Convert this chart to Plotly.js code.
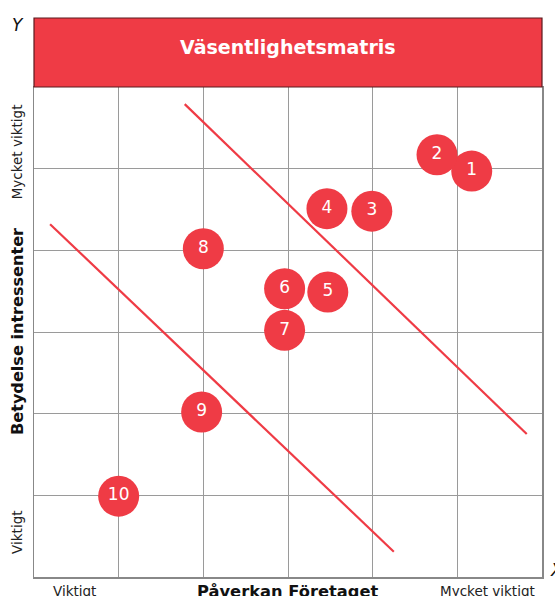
<!DOCTYPE html>
<html>
<head>
<meta charset="utf-8">
<script src="https://cdn.plot.ly/plotly-3.0.1.min.js"></script>
<style>body{margin:0;padding:0;background:#fff;} #chart{width:555px;height:596px;}</style>
</head>
<body>
<div id="chart"></div>
<script>
// Data
var labels = ["1","2","3","4","5","6","7","8","9","10"];
var impact = [5.17, 4.76, 3.99, 3.46, 3.47, 2.96, 2.96, 2.0, 1.98, 1.0];
var importance = [4.97, 5.17, 4.48, 4.51, 3.49, 3.53, 3.02, 4.02, 2.02, 0.99];
var upperLineX = [1.78, 5.82];
var upperLineY = [5.79, 1.75];
var lowerLineX = [0.19, 4.25];
var lowerLineY = [4.32, 0.31];
var xTickLabels = ["Viktigt", "Mycket viktigt"];
var xTickPos = [0.48, 5.36];
var yTickLabels = ["Viktigt", "Mycket viktigt"];
var yTickPos = [0.54, 5.2];
var titleText = "Väsentlighetsmatris";
var xTitle = "Påverkan Företaget";
var yTitle = "Betydelse intressenter";

var red = "#EF3B45";
var font = "DejaVu Sans, Verdana, sans-serif";

var traces = [
  {x: upperLineX, y: upperLineY, mode: "lines", line: {color: red, width: 2.2}, hoverinfo: "skip"},
  {x: lowerLineX, y: lowerLineY, mode: "lines", line: {color: red, width: 2.2}, hoverinfo: "skip"},
  {x: impact, y: importance, mode: "markers+text", text: labels, textposition: "middle center",
   textfont: {color: "#fff", size: 17, family: font},
   marker: {size: 41, color: red, line: {width: 0}}, cliponaxis: false}
];

var annotations = [];
for (var i = 0; i < xTickLabels.length; i++) {
  annotations.push({x: xTickPos[i], xref: "x", xanchor: "center", y: -0.0286, yref: "paper", yanchor: "middle",
    text: xTickLabels[i], showarrow: false, font: {size: 13.5, family: font, color: "#222"}});
}
for (var j = 0; j < yTickLabels.length; j++) {
  annotations.push({x: -17/508, xref: "paper", xanchor: "center", y: yTickPos[j], yref: "y", yanchor: "middle",
    text: yTickLabels[j], textangle: -90, showarrow: false, font: {size: 13.5, family: font, color: "#222"}});
}
annotations.push({x: (287-34)/508, xref: "paper", xanchor: "center", y: -0.0286, yref: "paper", yanchor: "middle",
  text: "<b>" + xTitle + "</b>", showarrow: false, font: {size: 16.3, family: font, color: "#111"}});
annotations.push({x: -17/508, xref: "paper", xanchor: "center", y: (577-332)/490, yref: "paper", yanchor: "middle",
  text: "<b>" + yTitle + "</b>", textangle: -90, showarrow: false, font: {size: 16.1, family: font, color: "#111"}});
annotations.push({x: (288-34)/508, xref: "paper", xanchor: "center", y: (577-47)/490, yref: "paper", yanchor: "middle",
  text: "<b>" + titleText + "</b>", showarrow: false, font: {size: 19, family: font, color: "#fff"}});
annotations.push({x: -16/508, xref: "paper", xanchor: "center", y: (577-25)/490, yref: "paper", yanchor: "middle",
  text: "<i>Y</i>", showarrow: false, font: {size: 17, family: font, color: "#111"}});
annotations.push({x: 1 + 6/508, xref: "paper", xanchor: "left", y: (577-570)/490, yref: "paper", yanchor: "middle",
  text: "<i>X</i>", showarrow: false, font: {size: 17, family: font, color: "#111"}});

var layout = {
  width: 555, height: 596,
  margin: {l: 34, r: 13, t: 87, b: 19, pad: 0},
  paper_bgcolor: "#fff", plot_bgcolor: "#fff",
  showlegend: false,
  xaxis: {range: [0, 6], dtick: 1, tick0: 0, showgrid: true, gridcolor: "#9a9a9a", gridwidth: 1,
    showticklabels: false, ticks: "", zeroline: false, showline: true, linecolor: "#888", linewidth: 1.5, mirror: true, fixedrange: true},
  yaxis: {range: [0, 6], dtick: 1, tick0: 0, showgrid: true, gridcolor: "#9a9a9a", gridwidth: 1,
    showticklabels: false, ticks: "", zeroline: false, showline: true, linecolor: "#888", linewidth: 1.5, mirror: true, fixedrange: true},
  shapes: [
    {type: "rect", xref: "paper", yref: "paper", x0: 0, x1: 1, y0: 1, y1: (577-18)/490,
     fillcolor: red, line: {color: "#5a1a1e", width: 1.2}, layer: "above"}
  ],
  annotations: annotations
};

Plotly.newPlot("chart", traces, layout, {displayModeBar: false, staticPlot: true});
</script>
</body>
</html>
